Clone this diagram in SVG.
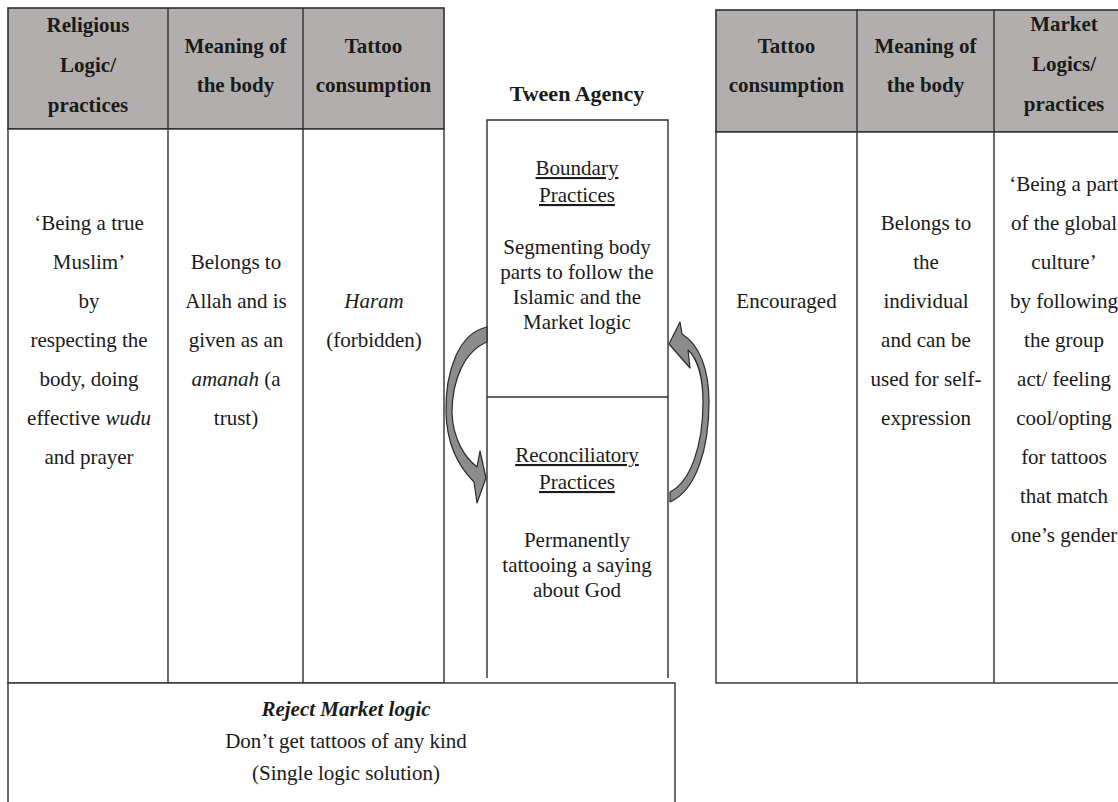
<svg xmlns="http://www.w3.org/2000/svg" width="1118" height="802" viewBox="0 0 1118 802">
  <style>
    .hdr { fill: #b2aead; stroke: #2e2e2e; stroke-width: 1.6; }
    .cell { fill: #ffffff; stroke: #2e2e2e; stroke-width: 1.4; }
    .ln { stroke: #2e2e2e; stroke-width: 1.4; fill: none; }
    .t { font-family: "Liberation Serif", "Times New Roman", serif; font-size: 21px; fill: #1a1a1a; text-anchor: middle; }
    .b { font-weight: bold; }
    .i { font-style: italic; }
    .u { text-decoration: underline; }
    .arr { fill: #8c8c8c; stroke: #2a2a2a; stroke-width: 1.2; stroke-linejoin: round; }
  </style>

  <rect width="1118" height="802" fill="#ffffff"/>

  <!-- Religious logic table -->
  <g id="religious-table">
    <rect class="hdr" x="8" y="8" width="436" height="121"/>
    <rect class="cell" x="8" y="129" width="436" height="554"/>
    <line class="ln" x1="168" y1="8" x2="168" y2="683"/>
    <line class="ln" x1="303" y1="8" x2="303" y2="683"/>
    <text class="t b" x="88" y="32">Religious</text>
    <text class="t b" x="88" y="72">Logic/</text>
    <text class="t b" x="88" y="112">practices</text>
    <text class="t b" x="235.5" y="53">Meaning of</text>
    <text class="t b" x="235.5" y="92">the body</text>
    <text class="t b" x="373.5" y="53">Tattoo</text>
    <text class="t b" x="373.5" y="92">consumption</text>

    <text class="t" x="89" y="230">‘Being a true</text>
    <text class="t" x="89" y="269">Muslim’</text>
    <text class="t" x="89" y="308">by</text>
    <text class="t" x="89" y="347">respecting the</text>
    <text class="t" x="89" y="386">body, doing</text>
    <text class="t" x="89" y="425">effective <tspan class="i">wudu</tspan></text>
    <text class="t" x="89" y="464">and prayer</text>

    <text class="t" x="236" y="269">Belongs to</text>
    <text class="t" x="236" y="308">Allah and is</text>
    <text class="t" x="236" y="347">given as an</text>
    <text class="t" x="236" y="386"><tspan class="i">amanah</tspan> (a</text>
    <text class="t" x="236" y="425">trust)</text>

    <text class="t i" x="374" y="308">Haram</text>
    <text class="t" x="374" y="347">(forbidden)</text>
  </g>

  <!-- Single logic solution box -->
  <g id="reject-box">
    <rect class="cell" x="8" y="683" width="667" height="130"/>
    <text class="t b i" x="346" y="716">Reject Market logic</text>
    <text class="t" x="346" y="748">Don’t get tattoos of any kind</text>
    <text class="t" x="346" y="780">(Single logic solution)</text>
  </g>

  <!-- Tween agency column -->
  <g id="tween-agency">
    <text class="t b" x="577" y="101" style="font-size:22px">Tween Agency</text>
    <polyline class="ln" points="487,678 487,120 668,120 668,678"/>
    <line class="ln" x1="487" y1="397" x2="668" y2="397"/>
  </g>

  <g id="boundary-practices">
    <text class="t u" x="577" y="175">Boundary</text>
    <text class="t u" x="577" y="202">Practices</text>
    <text class="t" x="577" y="254">Segmenting body</text>
    <text class="t" x="577" y="279">parts to follow the</text>
    <text class="t" x="577" y="304">Islamic and the</text>
    <text class="t" x="577" y="329">Market logic</text>
  </g>

  <g id="reconciliatory-practices">
    <text class="t u" x="577" y="462">Reconciliatory</text>
    <text class="t u" x="577" y="489">Practices</text>
    <text class="t" x="577" y="547">Permanently</text>
    <text class="t" x="577" y="572">tattooing a saying</text>
    <text class="t" x="577" y="597">about God</text>
  </g>

  <!-- Market logic table (runs past the right edge) -->
  <g id="market-table">
    <rect class="hdr" x="716" y="10" width="430" height="122"/>
    <rect class="cell" x="716" y="132" width="430" height="551"/>
    <line class="ln" x1="857" y1="10" x2="857" y2="683"/>
    <line class="ln" x1="994" y1="10" x2="994" y2="683"/>
    <text class="t b" x="786.5" y="53">Tattoo</text>
    <text class="t b" x="786.5" y="92">consumption</text>
    <text class="t b" x="925.5" y="53">Meaning of</text>
    <text class="t b" x="925.5" y="92">the body</text>
    <text class="t b" x="1064" y="31">Market</text>
    <text class="t b" x="1064" y="71">Logics/</text>
    <text class="t b" x="1064" y="111">practices</text>

    <text class="t" x="786.5" y="308">Encouraged</text>

    <text class="t" x="926" y="230">Belongs to</text>
    <text class="t" x="926" y="269">the</text>
    <text class="t" x="926" y="308">individual</text>
    <text class="t" x="926" y="347">and can be</text>
    <text class="t" x="926" y="386">used for self-</text>
    <text class="t" x="926" y="425">expression</text>

    <text class="t" x="1064" y="191">‘Being a part</text>
    <text class="t" x="1064" y="230">of the global</text>
    <text class="t" x="1064" y="269">culture’</text>
    <text class="t" x="1064" y="308">by following</text>
    <text class="t" x="1064" y="347">the group</text>
    <text class="t" x="1064" y="386">act/ feeling</text>
    <text class="t" x="1064" y="425">cool/opting</text>
    <text class="t" x="1064" y="464">for tattoos</text>
    <text class="t" x="1064" y="503">that match</text>
    <text class="t" x="1064" y="542">one’s gender</text>
  </g>

  <!-- Curved arrows cycling between the two practices -->
  <g id="connectors">
    <path class="arr" d="M 487 327 C 458 333, 445 373, 446 413 C 447 448, 460 468, 474 482 L 477 503 L 486 478 L 480 451 L 477 467 C 464 457, 453 438, 452 413 C 452 379, 465 351, 487 342 Z"/>
    <path class="arr" d="M 669 344 L 680 322 L 682 334 C 700 345, 709 370, 709 402 C 709 447, 697 490, 670 502 L 670 492 C 690 482, 703 447, 703 402 C 703 376, 697 358, 688 350 L 690 368 Z"/>
  </g>
</svg>
